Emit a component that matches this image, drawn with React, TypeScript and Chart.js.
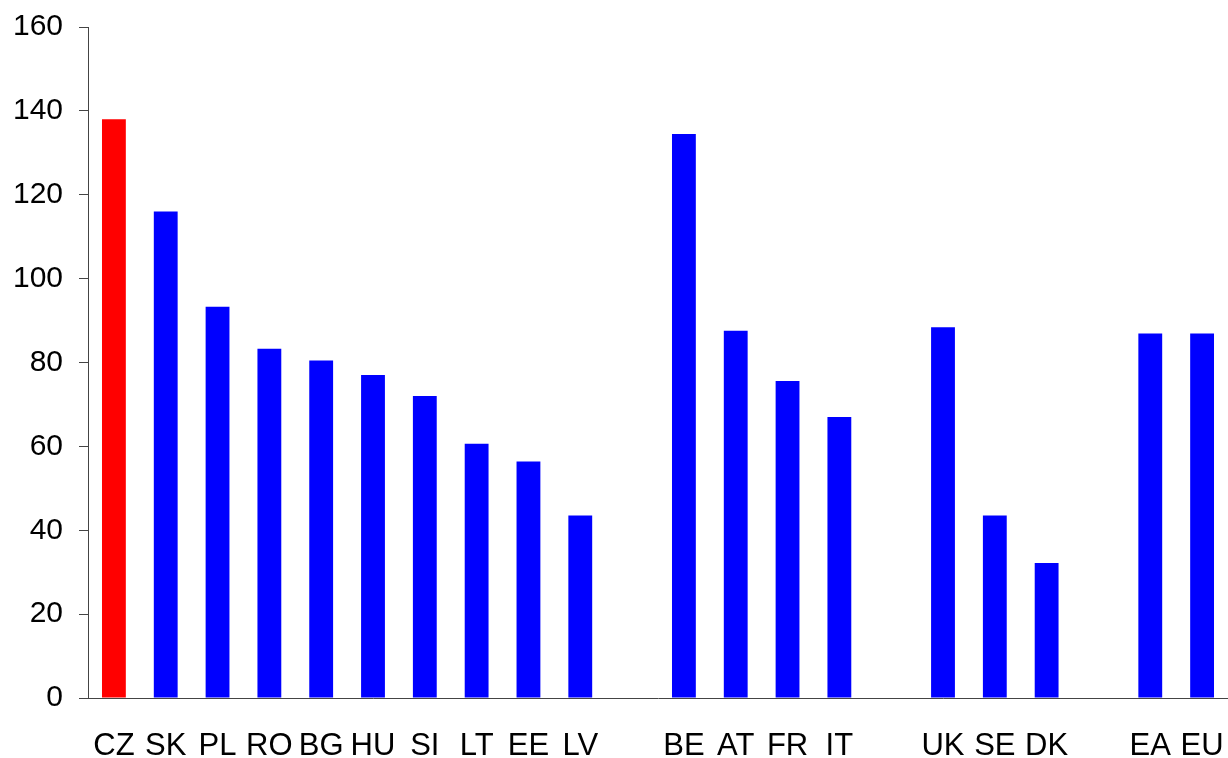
import React, { useEffect, useRef } from "react";
import { Chart, registerables } from "chart.js";

Chart.register(...registerables);

// Country groups, with empty slots separating them on the axis
const categories = [
  "CZ", "SK", "PL", "RO", "BG", "HU", "SI", "LT", "EE", "LV",
  "",
  "BE", "AT", "FR", "IT",
  "",
  "UK", "SE", "DK",
  "",
  "EA", "EU",
];

const values: (number | null)[] = [
  138, 116, 93.3, 83.3, 80.5, 77, 72, 60.6, 56.4, 43.5,
  null,
  134.5, 87.6, 75.6, 67,
  null,
  88.4, 43.5, 32.2,
  null,
  86.9, 86.9,
];

const highlighted = "CZ";

const yMin = 0;
const yMax = 160;
const yStep = 20;

const FONT = "'Liberation Sans', Arial, sans-serif";

export default function App() {
  const canvasRef = useRef<HTMLCanvasElement | null>(null);

  useEffect(() => {
    const canvas = canvasRef.current;
    if (!canvas) return;
    const chart = new Chart(canvas, {
      type: "bar",
      data: {
        labels: categories,
        datasets: [
          {
            data: values,
            backgroundColor: categories.map((c) => (c === highlighted ? "#ff0000" : "#0000ff")),
            borderWidth: 0,
            categoryPercentage: 1,
            barPercentage: 0.46,
          },
        ],
      },
      options: {
        animation: false,
        responsive: false,
        maintainAspectRatio: false,
        layout: { padding: { top: 27, right: 0, left: 0, bottom: 0 } },
        plugins: {
          legend: { display: false },
          tooltip: { enabled: false },
        },
        scales: {
          x: {
            grid: { display: false },
            border: { display: true, color: "#444", width: 1 },
            ticks: {
              color: "#000",
              font: { family: FONT, size: 31 },
              padding: 22,
              maxRotation: 0,
              autoSkip: false,
            },
            afterFit: (scale: any) => {
              scale.height = 60;
              scale.paddingLeft = 0;
              scale.paddingRight = 0;
            },
          },
          y: {
            min: yMin,
            max: yMax,
            grid: {
              display: true,
              drawOnChartArea: false,
              drawTicks: true,
              tickLength: 9,
              color: "#444",
            },
            border: { display: true, color: "#444", width: 1 },
            ticks: {
              stepSize: yStep,
              color: "#000",
              font: { family: FONT, size: 30 },
              padding: 16,
            },
            afterFit: (scale: any) => {
              scale.width = 88;
              scale.paddingTop = 0;
              scale.paddingBottom = 0;
            },
          },
        },
      },
    });
    return () => chart.destroy();
  }, []);

  return (
    <div style={{ position: "absolute", left: 0, top: 0, width: 1228, height: 758, background: "#fff" }}>
      <canvas ref={canvasRef} width={1228} height={758} style={{ display: "block" }} />
    </div>
  );
}
